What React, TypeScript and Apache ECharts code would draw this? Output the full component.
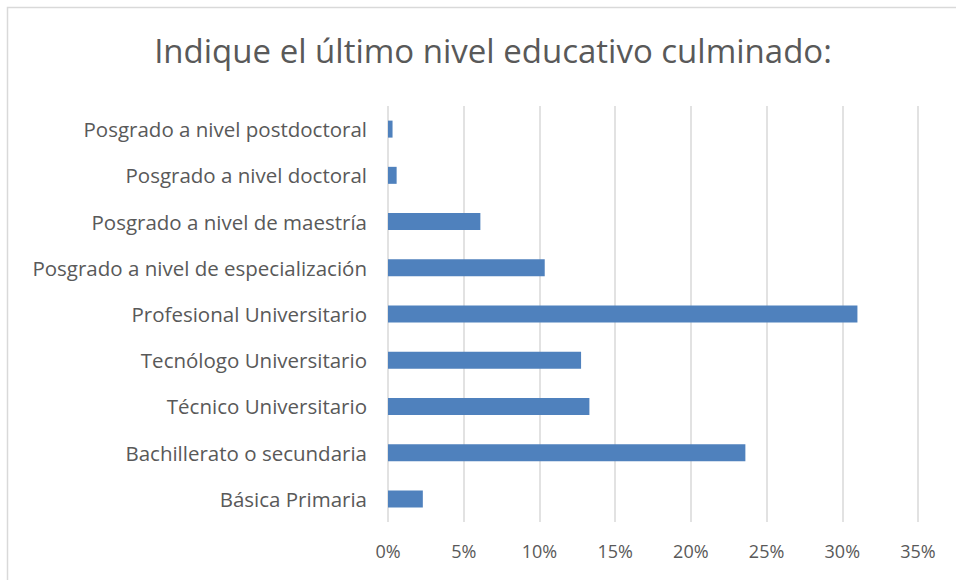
import React, { useEffect, useRef } from "react";
import * as echarts from "echarts";

const categories = [
  "Básica Primaria",
  "Bachillerato o secundaria",
  "Técnico Universitario",
  "Tecnólogo Universitario",
  "Profesional Universitario",
  "Posgrado a nivel de especialización",
  "Posgrado a nivel de maestría",
  "Posgrado a nivel doctoral",
  "Posgrado a nivel postdoctoral",
];
const values = [0.023, 0.236, 0.133, 0.1275, 0.31, 0.1035, 0.061, 0.0057, 0.003];
const titleText = "Indique el último nivel educativo culminado:";

export default function App() {
  const ref = useRef<HTMLDivElement>(null);
  useEffect(() => {
    document.body.style.margin = "0";
    const chart = echarts.init(ref.current!, undefined, { renderer: "svg" });
    chart.setOption({
      animation: false,
      backgroundColor: "#ffffff",
      title: {
        text: titleText,
        left: 488,
        textAlign: "center",
        top: 29,
        textStyle: { color: "#595959", fontSize: 33, fontWeight: "normal", fontFamily: "Open Sans" },
      },
      graphic: [
        {
          type: "rect",
          shape: { x: 7.5, y: 7.5, width: 960, height: 580 },
          style: { fill: "none", stroke: "#d9d9d9", lineWidth: 1.5 },
          silent: true,
        },
      ],
      grid: { left: 388, right: 38, top: 106, bottom: 58 },
      xAxis: {
        type: "value",
        min: 0,
        max: 0.35,
        interval: 0.05,
        axisLine: { show: false },
        axisTick: { show: false },
        splitLine: { show: true, lineStyle: { color: "#d9d9d9", width: 1.5 } },
        axisLabel: {
          color: "#595959",
          fontSize: 18,
          fontFamily: "Open Sans",
          margin: 20,
          formatter: (v: number) => Math.round(v * 100) + "%",
        },
      },
      yAxis: {
        type: "category",
        data: categories,
        axisLine: { show: false },
        axisTick: { show: false },
        axisLabel: { color: "#595959", fontSize: 20.5, fontFamily: "Open Sans", margin: 21 },
      },
      series: [
        {
          type: "bar",
          data: values,
          barWidth: 17,
          itemStyle: { color: "#4f81bd" },
        },
      ],
    });
    return () => chart.dispose();
  }, []);
  return <div ref={ref} style={{ width: 956, height: 580 }} />;
}
